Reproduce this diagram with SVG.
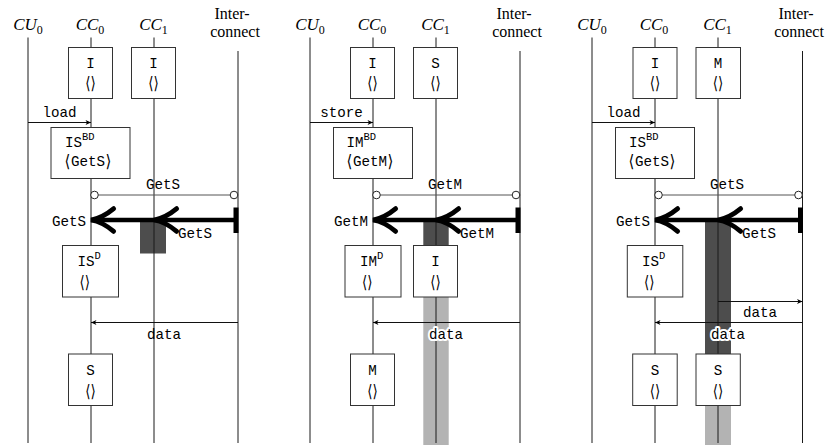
<svg xmlns="http://www.w3.org/2000/svg" width="831" height="445" viewBox="0 0 831 445">
<style>
.bg{fill:#fff}
.life{stroke:#1a1a1a;stroke-width:1;fill:none}
.box{fill:#fff;stroke:#333;stroke-width:1}
.tt{font-family:"Liberation Mono","DejaVu Sans Mono",monospace;font-size:14.2px;fill:#000}
.br{font-family:"DejaVu Sans","Noto Sans",sans-serif;font-size:15px;fill:#000}
.sup{font-size:10.5px}
.hdr{font-family:"Liberation Serif","Times New Roman",serif;font-size:17px;fill:#000}
.hdr2{font-family:"Liberation Serif","Times New Roman",serif;font-size:16px;fill:#000}
.it{font-style:italic}
.sub{font-size:12px}
.thin{stroke:#111;stroke-width:1;fill:none}
.gline{stroke:#555;stroke-width:1;fill:none}
.circ{fill:#fff;stroke:#222;stroke-width:1}
.thick{stroke:#000;stroke-width:4.5;fill:none}
.dark{fill:#4d4d4d}
.light{fill:#b3b3b3}
.halo{paint-order:stroke;stroke:#fff;stroke-width:4;stroke-linejoin:round}
</style>
<defs>
<marker id="big" markerUnits="userSpaceOnUse" orient="auto" refX="0" refY="0" markerWidth="40" markerHeight="40" viewBox="-25 -15 30 30" overflow="visible">
<path d="M-17,-8.5 C-11,-3.5 -5,-0.8 0,0 C-5,0.8 -11,3.5 -17,8.5" fill="none" stroke="#000" stroke-width="3.6" stroke-linecap="round"/>
</marker>
<marker id="small" markerUnits="userSpaceOnUse" orient="auto" refX="0" refY="0" markerWidth="10" markerHeight="10" viewBox="-8 -5 10 10" overflow="visible">
<path d="M0,0 L-5.5,-2.6 L-4,0 L-5.5,2.6 Z" fill="#000"/>
</marker>
</defs>
<rect class="bg" x="0" y="0" width="831" height="445"/>

<!-- ================= Panel 1 ================= -->
<g id="panel1">
<g id="p1-headers">
<text class="hdr" x="28" y="30" text-anchor="middle"><tspan class="it">CU</tspan><tspan class="sub" dy="3.5">0</tspan></text>
<text class="hdr" x="90" y="30" text-anchor="middle"><tspan class="it">CC</tspan><tspan class="sub" dy="3.5">0</tspan></text>
<text class="hdr" x="153.5" y="30" text-anchor="middle"><tspan class="it">CC</tspan><tspan class="sub" dy="3.5">1</tspan></text>
<text class="hdr2" x="232" y="19" text-anchor="middle">Inter-</text>
<text class="hdr2" x="235" y="37" text-anchor="middle">connect</text>
</g>
<g id="p1-shading">
<rect class="dark" x="140" y="220" width="26" height="33.5"/>
</g>
<g id="p1-lifelines">
<line class="life" x1="28" y1="37.5" x2="28" y2="443"/>
<line class="life" x1="91" y1="37.5" x2="91" y2="443"/>
<line class="life" x1="154" y1="37.5" x2="154" y2="443"/>
<line class="life" x1="238" y1="51" x2="238" y2="443"/>
</g>
<g id="p1-cc0-I">
<rect class="box" x="68.5" y="47.5" width="44" height="51"/>
<text class="tt" x="90.5" y="68" text-anchor="middle">I</text>
<text class="br" transform="translate(90.5,89) scale(0.9,1.15)" text-anchor="middle">⟨⟩</text>
</g>
<g id="p1-cc1-I">
<rect class="box" x="131.5" y="47.5" width="44" height="51"/>
<text class="tt" x="153.5" y="68" text-anchor="middle">I</text>
<text class="br" transform="translate(153.5,89) scale(0.9,1.15)" text-anchor="middle">⟨⟩</text>
</g>
<g id="p1-cc0-ISBD">
<rect class="box" x="51" y="127.5" width="79" height="51"/>
<text class="tt" x="65" y="146.5">IS<tspan class="sup" dy="-7">BD</tspan></text>
<text class="br" transform="translate(64.5,167) scale(1,1.15)">⟨</text>
<text class="tt" x="71" y="166">GetS</text>
<text class="br" transform="translate(105.5,167) scale(1,1.15)">⟩</text>
</g>
<g id="p1-cc0-ISD">
<rect class="box" x="62.5" y="245.5" width="56" height="51.5"/>
<text class="tt" x="77.5" y="266">IS<tspan class="sup" dy="-7">D</tspan></text>
<text class="br" transform="translate(79.5,287.5) scale(0.9,1.15)">⟨⟩</text>
</g>
<g id="p1-cc0-S">
<rect class="box" x="68.5" y="354" width="44" height="51.5"/>
<text class="tt" x="90.5" y="375" text-anchor="middle">S</text>
<text class="br" transform="translate(90.5,396.5) scale(0.9,1.15)" text-anchor="middle">⟨⟩</text>
</g>
<g id="p1-connectors">
<line class="thin" x1="28" y1="122.5" x2="91" y2="122.5" marker-end="url(#small)"/>
<text class="tt" x="59.5" y="116.5" text-anchor="middle">load</text>
<line class="gline" x1="98.3" y1="195" x2="230.2" y2="195"/>
<circle class="circ" cx="94.5" cy="195" r="3.8"/>
<circle class="circ" cx="234" cy="195" r="3.8"/>
<text class="tt" x="163" y="189" text-anchor="middle">GetS</text>
<path class="thick" d="M238,220 H154" marker-end="url(#big)"/>
<path class="thick" d="M154,220 H91" marker-end="url(#big)"/>
<rect x="233.5" y="207.5" width="5" height="25.5" fill="#000"/>
<text class="tt" x="86" y="225.5" text-anchor="end">GetS</text>
<text class="tt" x="178" y="238">GetS</text>
<line class="thin" x1="238" y1="322.5" x2="91" y2="322.5" marker-end="url(#small)"/>
<text class="tt" x="164" y="339" text-anchor="middle">data</text>
</g>
</g>

<!-- ================= Panel 2 ================= -->
<g id="panel2" transform="translate(282,0)">
<g id="p2-headers">
<text class="hdr" x="28" y="30" text-anchor="middle"><tspan class="it">CU</tspan><tspan class="sub" dy="3.5">0</tspan></text>
<text class="hdr" x="90" y="30" text-anchor="middle"><tspan class="it">CC</tspan><tspan class="sub" dy="3.5">0</tspan></text>
<text class="hdr" x="153.5" y="30" text-anchor="middle"><tspan class="it">CC</tspan><tspan class="sub" dy="3.5">1</tspan></text>
<text class="hdr2" x="232" y="19" text-anchor="middle">Inter-</text>
<text class="hdr2" x="235" y="37" text-anchor="middle">connect</text>
</g>
<g id="p2-shading">
<rect class="dark" x="141.3" y="220" width="25.4" height="26"/>
<rect class="light" x="141.3" y="297" width="25.4" height="148"/>
</g>
<g id="p2-lifelines">
<line class="life" x1="28" y1="37.5" x2="28" y2="443"/>
<line class="life" x1="91" y1="37.5" x2="91" y2="443"/>
<line class="life" x1="154" y1="37.5" x2="154" y2="443"/>
<line class="life" x1="238" y1="51" x2="238" y2="443"/>
</g>
<g id="p2-cc0-I">
<rect class="box" x="68.5" y="47.5" width="44" height="51"/>
<text class="tt" x="90.5" y="68" text-anchor="middle">I</text>
<text class="br" transform="translate(90.5,89) scale(0.9,1.15)" text-anchor="middle">⟨⟩</text>
</g>
<g id="p2-cc1-S">
<rect class="box" x="131.5" y="47.5" width="44" height="51"/>
<text class="tt" x="153.5" y="68" text-anchor="middle">S</text>
<text class="br" transform="translate(153.5,89) scale(0.9,1.15)" text-anchor="middle">⟨⟩</text>
</g>
<g id="p2-cc0-IMBD">
<rect class="box" x="51.5" y="127.5" width="79" height="51"/>
<text class="tt" x="64.5" y="146.5">IM<tspan class="sup" dy="-7">BD</tspan></text>
<text class="br" transform="translate(64.5,167) scale(1,1.15)">⟨</text>
<text class="tt" x="71" y="166">GetM</text>
<text class="br" transform="translate(105.5,167) scale(1,1.15)">⟩</text>
</g>
<g id="p2-cc0-IMD">
<rect class="box" x="63" y="245.5" width="56" height="51.5"/>
<text class="tt" x="78" y="266">IM<tspan class="sup" dy="-7">D</tspan></text>
<text class="br" transform="translate(80,287.5) scale(0.9,1.15)">⟨⟩</text>
</g>
<g id="p2-cc1-I">
<rect class="box" x="131.5" y="245.5" width="44" height="51.5"/>
<text class="tt" x="153.5" y="266" text-anchor="middle">I</text>
<text class="br" transform="translate(153.5,287.5) scale(0.9,1.15)" text-anchor="middle">⟨⟩</text>
</g>
<g id="p2-cc0-M">
<rect class="box" x="68.5" y="354" width="44" height="51.5"/>
<text class="tt" x="90.5" y="375" text-anchor="middle">M</text>
<text class="br" transform="translate(90.5,396.5) scale(0.9,1.15)" text-anchor="middle">⟨⟩</text>
</g>
<g id="p2-connectors">
<line class="thin" x1="28" y1="122.5" x2="91" y2="122.5" marker-end="url(#small)"/>
<text class="tt" x="59.5" y="116.5" text-anchor="middle">store</text>
<line class="gline" x1="98.3" y1="195" x2="230.2" y2="195"/>
<circle class="circ" cx="94.5" cy="195" r="3.8"/>
<circle class="circ" cx="234" cy="195" r="3.8"/>
<text class="tt" x="163" y="189" text-anchor="middle">GetM</text>
<path class="thick" d="M238,220 H154" marker-end="url(#big)"/>
<path class="thick" d="M154,220 H91" marker-end="url(#big)"/>
<rect x="233.5" y="207.5" width="5" height="25.5" fill="#000"/>
<text class="tt" x="86" y="225.5" text-anchor="end">GetM</text>
<text class="tt" x="178" y="238">GetM</text>
<line class="thin" x1="238" y1="322.5" x2="91" y2="322.5" marker-end="url(#small)"/>
<text class="tt halo" x="164" y="339" text-anchor="middle">data</text>
</g>
</g>

<!-- ================= Panel 3 ================= -->
<g id="panel3" transform="translate(564,0)">
<g id="p3-headers">
<text class="hdr" x="28" y="30" text-anchor="middle"><tspan class="it">CU</tspan><tspan class="sub" dy="3.5">0</tspan></text>
<text class="hdr" x="90" y="30" text-anchor="middle"><tspan class="it">CC</tspan><tspan class="sub" dy="3.5">0</tspan></text>
<text class="hdr" x="153.5" y="30" text-anchor="middle"><tspan class="it">CC</tspan><tspan class="sub" dy="3.5">1</tspan></text>
<text class="hdr2" x="232" y="19" text-anchor="middle">Inter-</text>
<text class="hdr2" x="235" y="37" text-anchor="middle">connect</text>
</g>
<g id="p3-shading">
<rect class="dark" x="141" y="220" width="26" height="134.5"/>
<rect class="light" x="141" y="405.5" width="26" height="39.5"/>
</g>
<g id="p3-lifelines">
<line class="life" x1="28" y1="37.5" x2="28" y2="443"/>
<line class="life" x1="91" y1="37.5" x2="91" y2="443"/>
<line class="life" x1="154" y1="37.5" x2="154" y2="443"/>
<line class="life" x1="238.5" y1="51" x2="238.5" y2="443"/>
</g>
<g id="p3-cc0-I">
<rect class="box" x="69" y="47.5" width="44" height="51"/>
<text class="tt" x="91" y="68" text-anchor="middle">I</text>
<text class="br" transform="translate(91,89) scale(0.9,1.15)" text-anchor="middle">⟨⟩</text>
</g>
<g id="p3-cc1-M">
<rect class="box" x="132" y="47.5" width="44.5" height="51"/>
<text class="tt" x="154" y="68" text-anchor="middle">M</text>
<text class="br" transform="translate(154,89) scale(0.9,1.15)" text-anchor="middle">⟨⟩</text>
</g>
<g id="p3-cc0-ISBD">
<rect class="box" x="51.5" y="127.5" width="79" height="51"/>
<text class="tt" x="65" y="146.5">IS<tspan class="sup" dy="-7">BD</tspan></text>
<text class="br" transform="translate(64.5,167) scale(1,1.15)">⟨</text>
<text class="tt" x="71" y="166">GetS</text>
<text class="br" transform="translate(105.5,167) scale(1,1.15)">⟩</text>
</g>
<g id="p3-cc0-ISD">
<rect class="box" x="63.3" y="245.5" width="55.5" height="51.5"/>
<text class="tt" x="78" y="266">IS<tspan class="sup" dy="-7">D</tspan></text>
<text class="br" transform="translate(80,287.5) scale(0.9,1.15)">⟨⟩</text>
</g>
<g id="p3-cc0-S">
<rect class="box" x="68.7" y="354" width="44.5" height="51.5"/>
<text class="tt" x="91" y="375" text-anchor="middle">S</text>
<text class="br" transform="translate(91,396.5) scale(0.9,1.15)" text-anchor="middle">⟨⟩</text>
</g>
<g id="p3-cc1-S">
<rect class="box" x="132" y="354" width="44.3" height="51.5"/>
<text class="tt" x="154" y="375" text-anchor="middle">S</text>
<text class="br" transform="translate(154,396.5) scale(0.9,1.15)" text-anchor="middle">⟨⟩</text>
</g>
<g id="p3-connectors">
<line class="thin" x1="28" y1="122.5" x2="91" y2="122.5" marker-end="url(#small)"/>
<text class="tt" x="59.5" y="116.5" text-anchor="middle">load</text>
<line class="gline" x1="98.3" y1="195" x2="230.7" y2="195"/>
<circle class="circ" cx="94.5" cy="195" r="3.8"/>
<circle class="circ" cx="234.5" cy="195" r="3.8"/>
<text class="tt" x="163" y="189" text-anchor="middle">GetS</text>
<path class="thick" d="M238.5,220 H154" marker-end="url(#big)"/>
<path class="thick" d="M154,220 H91" marker-end="url(#big)"/>
<rect x="234" y="207.5" width="5" height="25.5" fill="#000"/>
<text class="tt" x="86" y="225.5" text-anchor="end">GetS</text>
<text class="tt" x="178" y="238">GetS</text>
<line class="thin" x1="154" y1="301.5" x2="238.5" y2="301.5" marker-end="url(#small)"/>
<text class="tt" x="196" y="317" text-anchor="middle">data</text>
<line class="thin" x1="238.5" y1="322.5" x2="91" y2="322.5" marker-end="url(#small)"/>
<text class="tt halo" x="164" y="339" text-anchor="middle">data</text>
</g>
</g>
</svg>
